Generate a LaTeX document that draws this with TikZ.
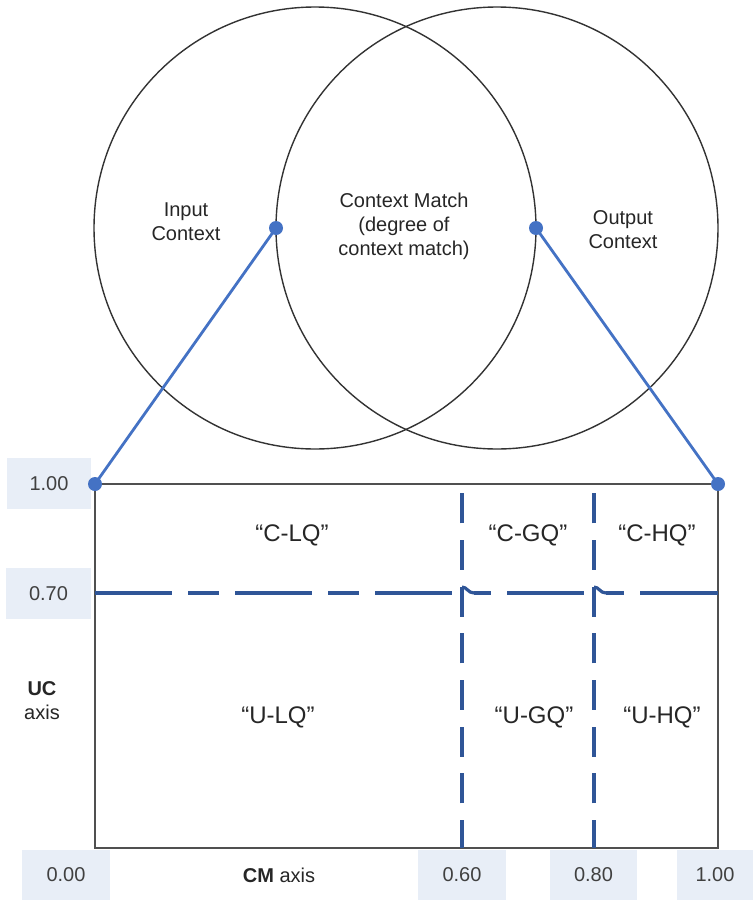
\documentclass[tikz,border=0pt]{standalone}
\usepackage{fontspec}
\setmainfont{Liberation Sans}
\usetikzlibrary{calc}

\definecolor{linkblue}{RGB}{68,114,196}
\definecolor{gridblue}{RGB}{47,85,151}
\definecolor{tagfill}{RGB}{232,238,247}
\definecolor{framegray}{RGB}{80,80,80}
\definecolor{numgray}{RGB}{64,64,64}

\begin{document}
\begin{tikzpicture}[x=1pt,y=-1pt,
  set/.style={circle,draw=black!80,line width=1.4pt,minimum size=442pt,inner sep=0pt,outer sep=0pt},
  settext/.style={align=center,font=\fontsize{20}{24}\selectfont,text=black!85},
  frame/.style={draw=framegray,line width=2.4pt,minimum width=623pt,minimum height=364pt,inner sep=0pt,outer sep=0pt},
  link/.style={draw=linkblue,line width=2.8pt},
  dot/.style={circle,fill=linkblue,minimum size=14pt,inner sep=0pt},
  gridline/.style={draw=gridblue,line width=3.2pt},
  quad/.style={font=\fontsize{24}{28}\selectfont,text=black!85},
  tag/.style={fill=tagfill,minimum height=51pt,font=\fontsize{20}{24}\selectfont,text=numgray,inner sep=0pt},
  axislabel/.style={font=\fontsize{20}{24}\selectfont,text=black!85,align=center}
]
\useasboundingbox (0,0) rectangle (753,900);

% value tags on the axes
\node[tag,minimum width=84pt] (u100) at (49,483.5) {1.00};
\node[tag,minimum width=85pt] (u070) at (48.5,593.5) {0.70};
\node[tag,minimum width=88pt,minimum height=50pt] (c000) at (66,875) {0.00};
\node[tag,minimum width=88pt,minimum height=50pt] (c060) at (462,875) {0.60};
\node[tag,minimum width=87pt,minimum height=50pt] (c080) at (593.5,875) {0.80};
\node[tag,minimum width=76pt,minimum height=50pt] (c100) at (715,875) {1.00};

% the two context sets
\node[set] (inC) at (315,228) {};
\node[set] (outC) at (497,228) {};
\node[settext] (inT) at (186,222) {Input\\Context};
\node[settext] (midT) at (404,226) {Context Match\\(degree of\\context match)};
\node[settext] (outT) at (623,230) {Output\\Context};

% quality grid
\node[frame] (grid) at (406.5,666) {};

\coordinate (h0) at (95,593);
\coordinate (hA) at (462,593);
\coordinate (hA1) at (462,587);
\coordinate (hA2) at (474,593);
\coordinate (hB) at (594,593);
\coordinate (hB1) at (594,587);
\coordinate (hB2) at (606,593);
\coordinate (h1) at (718,593);
\coordinate (vAt) at (462,484);
\coordinate (vAb) at (462,848);
\coordinate (vBt) at (594,484);
\coordinate (vBb) at (594,848);

\draw[gridline,dash pattern=on 30pt off 16.67pt,dash phase=2pt] (vAb) -- (vAt);
\draw[gridline,dash pattern=on 30pt off 16.67pt,dash phase=2pt] (vBb) -- (vBt);
\draw[gridline,dash pattern=on 77pt off 16pt on 31pt off 16pt] (h0) -- (hA);
\draw[gridline] (hA1) .. controls (467,587) and (468,593) .. (hA2);
\draw[gridline,dash pattern=on 17pt off 16pt on 77pt off 30pt] (hA2) -- (hB);
\draw[gridline] (hB1) .. controls (599,587) and (600,593) .. (hB2);
\draw[gridline,dash pattern=on 18pt off 16pt on 80pt off 20pt] (hB2) -- (h1);

% links from the set boundaries to the grid corners
\draw[link] (outC.west) -- (grid.north west);
\draw[link] (inC.east) -- (grid.north east);
\node[dot] (dA) at (outC.west) {};
\node[dot] (dB) at (inC.east) {};
\node[dot] (dC) at (grid.north west) {};
\node[dot] (dD) at (grid.north east) {};

% quadrant names
\node[quad] (clq) at (292,535) {“C-LQ”};
\node[quad] (cgq) at (528,535) {“C-GQ”};
\node[quad] (chq) at (657,535) {“C-HQ”};
\node[quad] (ulq) at (278,717) {“U-LQ”};
\node[quad] (ugq) at (534,717) {“U-GQ”};
\node[quad] (uhq) at (662,717) {“U-HQ”};

% axis names
\node[axislabel] (ucax) at (42,701) {\textbf{UC}\\axis};
\node[axislabel] (cmax) at (279,875) {\textbf{CM} axis};
\end{tikzpicture}
\end{document}
